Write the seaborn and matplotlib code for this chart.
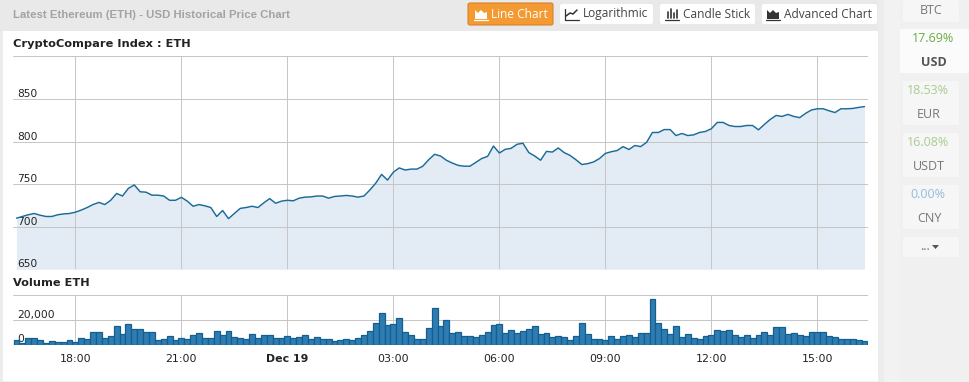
#!/usr/bin/env python3
import matplotlib
matplotlib.use('Agg')
import matplotlib.pyplot as plt
from matplotlib.patches import FancyBboxPatch, Polygon, Rectangle
import numpy as np
import seaborn as sns

# hours relative to midnight Dec 19, one sample every 10 minutes
hours = np.arange(145) / 6 - 46 / 6

price = [710, 712, 714, 715.5, 713.5, 712, 712, 714, 715, 715.5,
         717, 719.5, 722.5, 726, 728.5, 726, 731, 739, 736, 745,
         749, 741, 740.5, 737, 737, 736, 731, 731, 734.5, 730,
         724, 726, 724.5, 722.5, 712, 719, 709.5, 715.5, 721.5, 722.5,
         724, 722.5, 728, 733, 727.5, 730, 731, 730.4, 733.5, 734.7,
         735, 736, 736, 733.5, 735.5, 736, 736.7, 736, 734.7, 736,
         743, 751, 761.4, 754.7, 764, 769, 766.5, 767.6, 767.6, 771,
         778.6, 785, 783, 778, 774.7, 772, 771, 771, 775.5, 780,
         782.5, 794.7, 786.5, 790.8, 792, 796.7, 798, 787, 783, 778,
         788.4, 787.6, 792.4, 787, 783.7, 778.6, 773, 774, 776, 780,
         786, 788, 789.4, 794, 790.6, 795.3, 794, 799, 810.6, 810.6,
         814, 814, 807, 809.4, 807, 807.8, 810.6, 811.8, 815, 822.4,
         822.4, 818.8, 817.6, 817.6, 818.8, 818.8, 813.7, 820, 825.9, 830.6,
         829.4, 831.8, 829.4, 828, 833, 837, 838.4, 838.4, 836, 834,
         838.4, 838.4, 838.8, 840, 841]

volume = [3300, 1400, 5000, 5000, 3300, 1400, 2500, 1700, 1700, 3300,
          1950, 5000, 4200, 10000, 10000, 5000, 6700, 15000, 8300, 16700,
          12500, 12500, 10000, 10000, 3300, 4200, 6700, 3300, 5000, 4200,
          7500, 9200, 5000, 5000, 10850, 7500, 10850, 5800, 5000, 4200,
          8300, 5000, 7500, 7500, 5000, 5000, 6700, 5000, 5800, 7500,
          4200, 5800, 4200, 4200, 2500, 3300, 4200, 3300, 5000, 7500,
          10850, 17500, 25850, 15850, 16700, 21700, 10000, 7500, 4200, 4200,
          13300, 30000, 15000, 20000, 9200, 10000, 6700, 6700, 5800, 7500,
          10000, 15850, 16700, 9200, 11700, 9200, 10850, 12500, 15000, 8300,
          9200, 5800, 6700, 5800, 3300, 6700, 17500, 8300, 4200, 4200,
          3300, 6700, 4200, 6700, 7500, 5800, 9200, 9200, 36700, 17500,
          12500, 8300, 15000, 5800, 8300, 5000, 4200, 6700, 7500, 11700,
          10850, 11700, 7500, 5800, 7500, 5000, 7500, 10000, 7500, 14200,
          14200, 8300, 9200, 7500, 6700, 10000, 10000, 10000, 6700, 5800,
          4200, 4200, 4200, 3300, 2500]

time_ticks = [-6, -3, 0, 3, 6, 9, 12, 15]
time_labels = ['18:00', '21:00', 'Dec 19', '03:00', '06:00', '09:00', '12:00', '15:00']
price_ticks = [650, 700, 750, 800, 850, 900]
price_labels = ['650', '700', '750', '800', '850', '']
volume_ticks = [0, 20000, 40000]
volume_labels = ['0', '20,000', '']

sns.set_style("white")
plt.rcParams['font.family'] = ['DejaVu Sans']

W, H = 970, 382
LINE = '#1b6b99'
GRID = '#c6c6c6'
X_MIN, X_MAX = hours[0] - 0.594 / 6, hours[0] + 144.6 / 6

fig = plt.figure(figsize=(W / 100, H / 100), dpi=100, facecolor='#f0f0f0')

# page chrome, in pixel coordinates
bg = fig.add_axes([0, 0, 1, 1], zorder=0)
bg.set_xlim(0, W)
bg.set_ylim(H, 0)
bg.axis('off')
bg.add_patch(Rectangle((0, 0), 878, 31, color='#e9e9e9', lw=0))
bg.add_patch(Rectangle((0, 31), 3, 351, color='#ececec', lw=0))
bg.add_patch(Rectangle((3, 31), 875, 350, color='white', lw=0))
bg.add_patch(Rectangle((878, 0), 22, H, color='#ececec', lw=0))
bg.add_patch(Rectangle((884, 0), 16, H, color='#f2f2f2', lw=0))
bg.add_patch(Rectangle((900, 0), 70, H, color='#f0f0f0', lw=0))


def card(x0, x1, y0, y1, face='#f6f6f6', edge='none'):
    bg.add_patch(FancyBboxPatch((x0 + 2, y0 + 2), x1 - x0 - 4, y1 - y0 - 4,
                                boxstyle='round,pad=2', fc=face, ec=edge, lw=0.8))


bg.text(13, 14.5, 'Latest Ethereum (ETH) - USD Historical Price Chart',
        family='Liberation Sans', fontweight='bold',
        fontsize=8.2, color='#a3a3a3', va='center')

# buttons
card(468, 553, 3, 25, face='#f39a32', edge='#d9822b')
card(560, 653, 4, 24, face='white')
card(660, 755, 4, 24, face='white')
card(762, 877, 4, 24, face='white')
btn = dict(family='Open Sans', fontsize=8.6, va='center')
bg.text(491, 14, 'Line Chart', color='white', **btn)
bg.text(583, 14, 'Logarithmic', color='#444444', **btn)
bg.text(683, 14, 'Candle Stick', color='#444444', **btn)
bg.text(784, 14, 'Advanced Chart', color='#444444', **btn)


def area_icon(x, color):
    bg.add_patch(Polygon([(x, 19), (x, 10), (x + 3, 13), (x + 6, 10), (x + 9, 13),
                          (x + 12, 12), (x + 12, 19)], color=color, lw=0))
    bg.plot([x - 1, x + 13], [19.5, 19.5], color=color, lw=0.9)


area_icon(475, 'white')
area_icon(767, '#333333')
bg.plot([566, 570, 573, 577], [16, 13, 14, 10], color='#333333', lw=1.1)
bg.plot([565, 565, 579], [9, 19.5, 19.5], color='#333333', lw=0.9)
for dx, top in zip([668, 671, 674, 677], [12, 9, 13, 10]):
    bg.plot([dx, dx], [top, 18], color='#333333', lw=1.2)
bg.plot([665, 679], [19.5, 19.5], color='#333333', lw=0.9)

# right sidebar
card(903, 959, 0, 22)
card(900, 969, 29, 73, face='#fbfbfb')
card(903, 959, 81, 125)
card(903, 959, 133, 177)
card(903, 959, 185, 229)
card(903, 959, 237, 257)
side = dict(family='Open Sans', fontsize=9, ha='center', va='center')
bg.text(931, 10, 'BTC', color='#777777', **side)
bg.text(933, 39, '17.69%', color='#6cab45', **side)
bg.text(934, 62, 'USD', color='#555555', fontweight='bold', **side)
bg.text(928, 91, '18.53%', color='#a9cc8f', **side)
bg.text(929, 114, 'EUR', color='#777777', **side)
bg.text(928, 143, '16.08%', color='#a9cc8f', **side)
bg.text(929, 166, 'USDT', color='#777777', **side)
bg.text(928, 195, '0.00%', color='#93bbdc', **side)
bg.text(929, 218, 'CNY', color='#777777', **side)
bg.text(925, 247, '...', color='#777777', **side)
bg.add_patch(Polygon([(932, 245), (939, 245), (935.5, 249)], color='#555555', lw=0))

bg.text(13, 44, 'CryptoCompare Index : ETH', fontweight='bold', fontsize=8.2,
        color='#222222', va='center')
bg.text(13, 283, 'Volume ETH', fontweight='bold', fontsize=8.2,
        color='#222222', va='center')

# price panel
ax = fig.add_axes([13 / W, 1 - 269.3 / H, 855 / W, (269.3 - 56.3) / H], zorder=1)
ax.patch.set_alpha(0)
ax.fill_between(hours, price, 650, color='#e3ecf4', lw=0, zorder=1)
sns.lineplot(x=hours, y=price, ax=ax, color=LINE, linewidth=1.05, zorder=3)

# volume panel
ax2 = fig.add_axes([13 / W, 1 - 344.5 / H, 855 / W, (344.5 - 295.3) / H], zorder=1)
ax2.patch.set_alpha(0)
sns.barplot(x=hours, y=volume, ax=ax2, native_scale=True, color='#2f7cb2',
            saturation=1, edgecolor='#125f90', linewidth=0.9, width=1, zorder=2)

for a, ticks, labels in [(ax, price_ticks, price_labels), (ax2, volume_ticks, volume_labels)]:
    a.set_xlim(X_MIN, X_MAX)
    a.set_ylim(ticks[0], ticks[-1])
    a.set_xticks(time_ticks)
    a.set_yticks(ticks)
    a.set_yticklabels(labels, fontsize=7.7, color='#222222')
    a.set_axisbelow(False)
    a.grid(True, color=GRID, linewidth=0.72)
    a.set_xlabel('')
    a.set_ylabel('')
    sns.despine(ax=a, left=True, bottom=True, top=True, right=True)
    a.tick_params(axis='y', length=0, pad=-3)
    for t in a.get_yticklabels():
        t.set_ha('left')
        t.set_va('bottom')
        t.set_zorder(5)

ax.tick_params(axis='x', length=0, labelbottom=False)
ax2.set_axisbelow(True)
ax2.set_xticklabels(time_labels, fontsize=7.9, color='#222222')
ax2.tick_params(axis='x', length=0, pad=7)
ax2.get_xticklabels()[2].set_fontweight('bold')

fig.savefig('out.png', dpi=100, facecolor=fig.get_facecolor())
